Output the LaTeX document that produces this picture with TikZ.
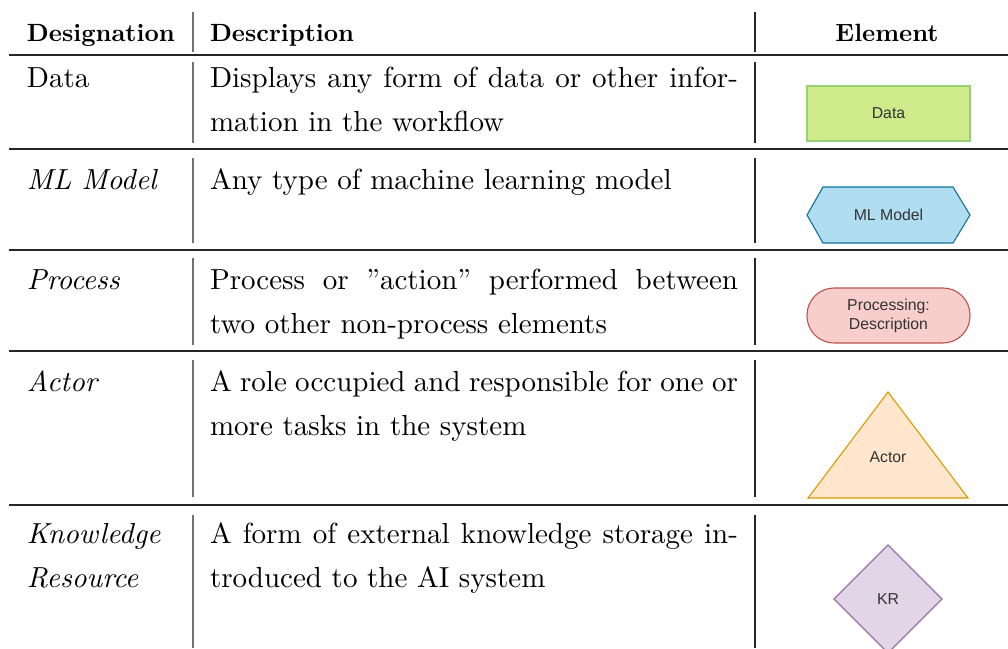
\documentclass[tikz,border=0pt]{standalone}
\usepackage{fontspec}
% fixed 10pt design size at every scale
\setmainfont{lmroman10-regular.otf}[
  BoldFont=lmroman10-bold.otf,
  ItalicFont=lmroman10-italic.otf,
  BoldItalicFont=lmroman10-bolditalic.otf]
\newfontfamily\shapefont{Liberation Sans}
\definecolor{dataFill}{HTML}{CDEB8B}
\definecolor{dataLine}{HTML}{97D077}
\definecolor{mlFill}{HTML}{B1DDF0}
\definecolor{mlLine}{HTML}{10739E}
\definecolor{procFill}{HTML}{F8CECC}
\definecolor{procLine}{HTML}{B85450}
\definecolor{actFill}{HTML}{FFE6CC}
\definecolor{actLine}{HTML}{D79B00}
\definecolor{krFill}{HTML}{E1D5E7}
\definecolor{krLine}{HTML}{9673A6}
\begin{document}
\begin{tikzpicture}[x=1pt,y=-1pt,
  txt/.style={anchor=base west, inner sep=0pt, outer sep=0pt, font=\fontsize{29}{44}\selectfont},
  hdr/.style={inner sep=0pt, outer sep=0pt, anchor=base, font=\fontsize{24.9}{44}\selectfont\bfseries},
  rulebar/.style={line width=2pt, draw=black!85},
  sepA/.style={line width=1.6pt, draw=black!55},
  sepB/.style={line width=1.6pt, draw=black!85},
  elem/.style={line width=1.1pt},
  elemtext/.style={inner sep=0pt, align=center, text=black!80, font=\shapefont\fontsize{15.8}{19}\selectfont},
]
\useasboundingbox (0,0) rectangle (1008,648);

% horizontal rules
\foreach \yy in {55,148.5,249.5,351,505}
  \draw[rulebar] (9,\yy) -- (1008,\yy);

% column separators
\foreach \ya/\yb in {12/52, 62/143, 158/243, 258/345, 360/497, 515/648} {
  \draw[sepA] (193,\ya) -- (193,\yb);
  \draw[sepB] (755,\ya) -- (755,\yb);
}

% header
\node[hdr, anchor=base west] (hDes) at (27,41) {Designation};
\node[hdr, anchor=base west] (hDesc) at (210,41) {Description};
\node[hdr] (hEl) at (887,41) {Element};

% row: Data
\node[txt] (d1) at (27,87) {Data};
\node[txt] (d2) at (210,87) {\makebox[528pt][s]{Displays any form of data or other infor-}};
\node[txt] (d3) at (210,131) {mation in the workflow};

% row: ML Model
\node[txt] (m1) at (27,189) {\itshape ML Model};
\node[txt] (m2) at (210,189) {Any type of machine learning model};

% row: Process
\node[txt] (p1) at (27,289) {\itshape Process};
\node[txt] (p2) at (210,289) {\makebox[528pt][s]{Process or ''action'' performed between}};
\node[txt] (p3) at (210,333) {two other non-process elements};

% row: Actor
\node[txt] (a1) at (27,391) {\itshape Actor};
\node[txt] (a2) at (210,391) {\makebox[528pt][s]{A role occupied and responsible for one or}};
\node[txt] (a3) at (210,435) {more tasks in the system};

% row: Knowledge Resource
\node[txt] (k1) at (27,543.5) {\itshape Knowledge};
\node[txt] (k1b) at (27,587.5) {\itshape Resource};
\node[txt] (k2) at (210,543.5) {\makebox[528pt][s]{A form of external knowledge storage in-}};
\node[txt] (k3) at (210,587.5) {troduced to the AI system};

% element: data rectangle
\draw[elem, fill=dataFill, draw=dataLine] (807,86) rectangle (970,141);
\node[elemtext] (eData) at (888.5,113.5) {Data};

% element: ML model hexagon
\draw[elem, fill=mlFill, draw=mlLine]
  (807,215) -- (823,187) -- (953,187) -- (970,215) -- (953,243) -- (823,243) -- cycle;
\node[elemtext] (eML) at (888.5,215) {ML Model};

% element: process capsule
\draw[elem, fill=procFill, draw=procLine, rounded corners=27pt] (807,288) rectangle (970,343);
\node[elemtext] (eProc) at (888.5,315.5) {Processing:\\Description};

% element: actor triangle
\draw[elem, fill=actFill, draw=actLine] (888,392) -- (968,498) -- (808,498) -- cycle;
\node[elemtext] (eAct) at (888,457) {Actor};

% element: knowledge resource diamond
\draw[elem, fill=krFill, draw=krLine] (888,545) -- (942,599) -- (888,653) -- (834,599) -- cycle;
\node[elemtext] (eKR) at (888,599) {KR};
\end{tikzpicture}
\end{document}
